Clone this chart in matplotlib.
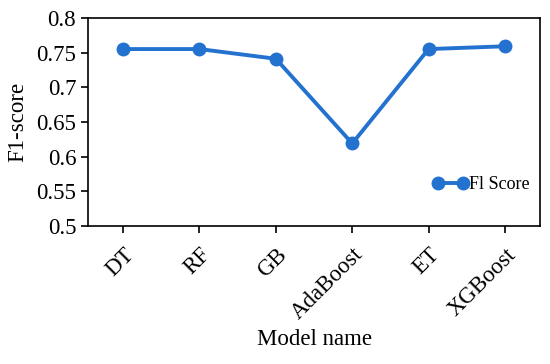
import matplotlib
matplotlib.use("Agg")
import matplotlib.pyplot as plt
import numpy as np

models = ['DT', 'RF', 'GB', 'AdaBoost', 'ET', 'XGBoost']
f1_scores = [0.755, 0.755, 0.741, 0.619, 0.755, 0.759]
y_ticks = [0.5, 0.55, 0.6, 0.65, 0.7, 0.75, 0.8]

plt.rcParams['font.family'] = ['Liberation Serif', 'DejaVu Serif']

fig = plt.figure(figsize=(5.5, 3.64), dpi=100)
ax = fig.add_axes([0.16, 0.379, 0.822, 0.572])

x = np.arange(len(models))
ax.plot(x, f1_scores, color='#2372D0', linewidth=2.8, marker='o',
        markersize=9, label='Fl Score')

ax.set_ylim(0.5, 0.8)
ax.set_xlim(-0.46, 5.46)
ax.set_yticks(y_ticks)
ax.set_yticklabels([f'{v:g}' for v in y_ticks], fontsize=16.5)
ax.set_xticks(x)
ax.set_xticklabels(models, rotation=45, ha='right', rotation_mode='anchor', fontsize=16.5)
ax.tick_params(direction='out', length=5, width=1.2, colors='black')
ax.tick_params(axis='x', pad=8)
for sp in ax.spines.values():
    sp.set_linewidth(1.2)

ax.set_ylabel('F1-score', fontsize=16.5, labelpad=6)
ax.set_xlabel('Model name', fontsize=16.5, labelpad=4)

ax.legend(loc='center right', bbox_to_anchor=(1.0, 0.2), frameon=False, fontsize=13,
          numpoints=2, handlelength=2.0, handletextpad=0.0, borderaxespad=0.2)

fig.savefig('out.png', dpi=100, facecolor='white')
